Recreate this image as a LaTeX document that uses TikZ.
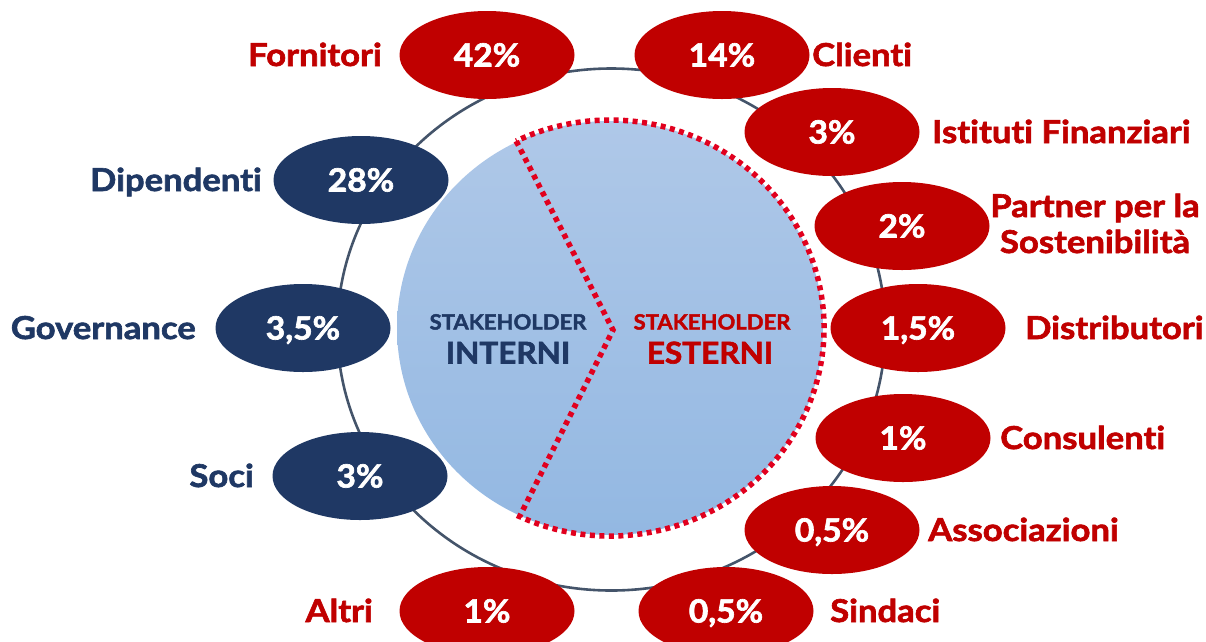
\documentclass[tikz,border=0pt]{standalone}
\usepackage{fontspec}
\setmainfont{Lato}[FakeStretch=1.05,Ligatures=NoCommon,BoldFeatures={FakeBold=2}]
\newfontfamily\lblfont{Lato}[FakeStretch=1.1,Ligatures=NoCommon,BoldFeatures={FakeBold=2}]
\usetikzlibrary{shapes.geometric,calc}
\definecolor{navy}{RGB}{31,56,100}
\definecolor{dred}{RGB}{192,0,0}
\definecolor{dotred}{RGB}{225,0,30}
\definecolor{ringc}{RGB}{68,84,106}
\definecolor{pietop}{RGB}{175,200,232}
\definecolor{piebot}{RGB}{147,184,226}
\begin{document}
\begin{tikzpicture}[x=1pt,y=-1pt,
  pct/.style={ellipse,minimum width=175pt,minimum height=88pt,inner sep=0pt,text=white,
    font=\fontsize{32}{32}\selectfont\bfseries,text height=23pt,text depth=0pt},
  ext/.style={pct,fill=dred},
  intn/.style={pct,fill=navy},
  lbl/.style={inner sep=0pt,font=\lblfont\fontsize{31.5}{36}\selectfont\bfseries},
  extlbl/.style={lbl,text=dred},
  intlbl/.style={lbl,text=navy},
  small/.style={inner sep=0pt,anchor=base,font=\fontsize{21}{21}\selectfont\bfseries},
  big/.style={inner sep=0pt,anchor=base,font=\fontsize{30}{30}\selectfont\bfseries},
]
\useasboundingbox (0,0) rectangle (1206,641);
% outer ring
\draw[ringc,line width=2.6pt] (611.3,329.5) ellipse [x radius=274, y radius=261];
% pie
\coordinate (pc) at (610,328);
\shade[top color=pietop,bottom color=piebot] (pc) ellipse [x radius=213, y radius=207];
\coordinate (dtop) at ($(pc)+(-116:214 and 208)$);
\coordinate (dmid) at (613,330);
\coordinate (dbot) at ($(pc)+(115:214 and 208)$);
\draw[dotred,line width=5.5pt,dash pattern=on 5pt off 4.5pt]
  (dtop) -- (dmid) -- (dbot) arc[start angle=115, end angle=-116, x radius=214, y radius=208];
% pie labels
\node[small,text=navy] (si) at (508,329.5) {STAKEHOLDER};
\node[big,text=navy] (ii) at (508,363.5) {INTERNI};
\node[small,text=dred] (se) at (712,329.5) {STAKEHOLDER};
\node[big,text=dred] (ee) at (710,363.5) {ESTERNI};
% ellipses
\node[ext] (e-forn) at (487,55) {42\%};
\node[ext] (e-cli) at (722,55) {14\%};
\node[ext] (e-ist) at (832,132) {3\%};
\node[ext] (e-par) at (902,226) {2\%};
\node[ext] (e-dis) at (918,328) {1,5\%};
\node[ext] (e-con) at (903,438) {1\%};
\node[ext] (e-ass) at (832,530) {0,5\%};
\node[ext] (e-sin) at (726,611) {0,5\%};
\node[ext] (e-alt) at (487,611) {1\%};
\node[intn] (e-soc) at (360,476) {3\%};
\node[intn] (e-gov) at (303,328) {3,5\%};
\node[intn] (e-dip) at (361,180) {28\%};
% labels
\node[extlbl,anchor=base east] (l-forn) at (382,66) {Fornitori};
\node[intlbl,anchor=base east] (l-dip) at (262,191) {Dipendenti};
\node[intlbl,anchor=base east] (l-gov) at (196,339) {Governance};
\node[intlbl,anchor=base east] (l-soc) at (254,487) {Soci};
\node[extlbl,anchor=base east] (l-alt) at (373,622) {Altri};
\node[extlbl,anchor=base west] (l-cli) at (812,66) {Clienti};
\node[extlbl,anchor=base west] (l-ist) at (932,143) {Istituti Finanziari};
\node[extlbl,align=center,anchor=base] (l-par) at (1095,253) {Partner per la\\Sostenibilità};
\node[extlbl,anchor=base west] (l-dis) at (1025,339) {Distributori};
\node[extlbl,anchor=base west] (l-con) at (1000,449) {Consulenti};
\node[extlbl,anchor=base west] (l-ass) at (928,541) {Associazioni};
\node[extlbl,anchor=base west] (l-sin) at (830,622) {Sindaci};
\end{tikzpicture}
\end{document}
